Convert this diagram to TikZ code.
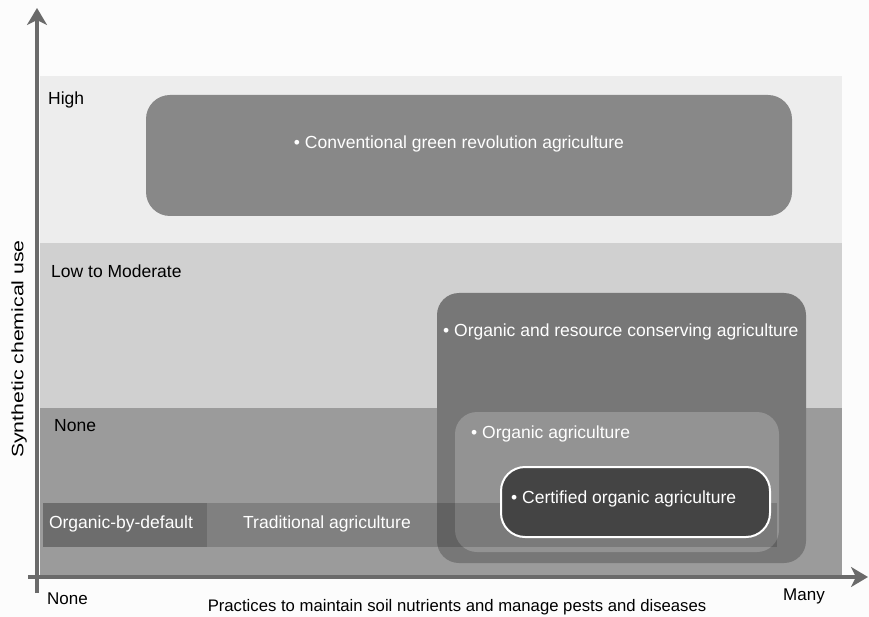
\documentclass[tikz,border=0pt]{standalone}
\usepackage{fontspec}
\setmainfont{Liberation Sans}
\usetikzlibrary{arrows.meta}
\definecolor{topbg}{HTML}{FCFCFC}
\definecolor{highbg}{HTML}{EDEDED}
\definecolor{lowbg}{HTML}{D0D0D0}
\definecolor{nonebg}{HTML}{9B9B9B}
\definecolor{convc}{HTML}{888888}
\definecolor{orgresc}{HTML}{777777}
\definecolor{orgc}{HTML}{939393}
\definecolor{certc}{HTML}{444444}
\definecolor{obdc}{HTML}{6D6D6D}
\definecolor{axisc}{HTML}{6A6A6A}
\tikzset{
  lbl/.style={anchor=west, inner sep=0pt, font=\fontsize{17.5}{20}\selectfont, text=black},
  wlbl/.style={anchor=west, inner sep=0pt, font=\fontsize{17.5}{20}\selectfont, text=white},
  axisline/.style={draw=axisc, line width=3.5pt},
}
\begin{document}
\begin{tikzpicture}[x=1pt,y=-1pt]
\useasboundingbox (0,0) rectangle (869,617);
\fill[topbg] (0,0) rectangle (869,617);
% bands
\fill[highbg] (40,76) rectangle (842,243);
\fill[lowbg] (40,243) rectangle (842,408);
\fill[nonebg] (40,408) rectangle (842,576);
% conventional
\fill[convc, rounded corners=24pt] (146,95) rectangle (792,216);
\node[wlbl, anchor=center] (conv) at (459,144) {• Conventional green revolution agriculture};
% organic resource conserving
\fill[orgresc, rounded corners=22pt] (437,293) rectangle (806,563);
\node[wlbl] (orgres) at (443,332) {• Organic and resource conserving agriculture};
% organic
\fill[orgc, rounded corners=22pt] (455,412) rectangle (779,552);
\node[wlbl] (org) at (471,434) {• Organic agriculture};
% traditional strip
\fill[black, opacity=0.17] (43,503) rectangle (777,547);
\fill[obdc] (43,503) rectangle (207,547);
\node[wlbl, anchor=center] (obd) at (121,524) {Organic-by-default};
\node[wlbl, anchor=center] (trad) at (327,524) {Traditional agriculture};
% certified
\draw[fill=certc, draw=white, line width=2pt, rounded corners=24pt] (501,467) rectangle (770,537);
\node[wlbl] (cert) at (511,499) {• Certified organic agriculture};
% band labels
\node[lbl] (high) at (48,100) {High};
\node[lbl] (low) at (51,271) {Low to Moderate};
\node[lbl] (none) at (54,426) {None};
% axes
\coordinate (yo) at (37,593);
\coordinate (ytip) at (37,8);
\coordinate (xo) at (28,577);
\coordinate (xtip) at (868,577);
\draw[axisline, -{Stealth[length=17pt,width=20pt,inset=5pt]}] (yo) -- (ytip);
\draw[axisline, -{Stealth[length=17pt,width=20pt,inset=5pt]}] (xo) -- (xtip);
\node[lbl, font=\fontsize{17}{20}\selectfont] (xnone) at (47,599) {None};
\node[lbl, font=\fontsize{17}{20}\selectfont] (xmany) at (783,596) {Many};
\node[lbl, anchor=center, font=\fontsize{16.7}{20}\selectfont] (xlab) at (457,607) {Practices to maintain soil nutrients and manage pests and diseases};
\node[lbl, anchor=center, rotate=90, xscale=1.29, font=\fontsize{16.5}{20}\selectfont] (ylab) at (19,349) {Synthetic chemical use};
\end{tikzpicture}
\end{document}
